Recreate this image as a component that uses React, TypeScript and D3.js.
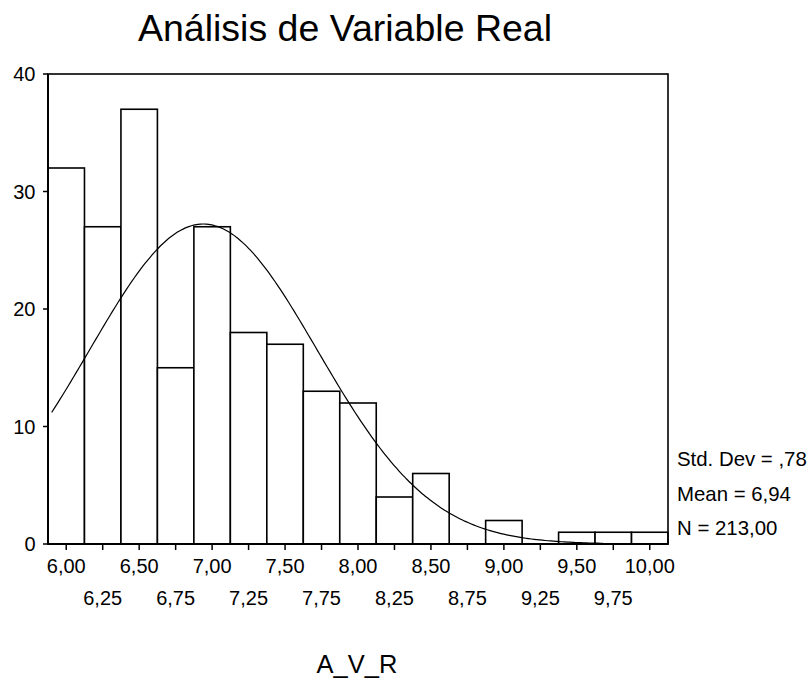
import React from "react";
import * as d3 from "d3";

const title = "Análisis de Variable Real";
const axisTitle = "A_V_R";
const binCenters = [6.0, 6.25, 6.5, 6.75, 7.0, 7.25, 7.5, 7.75, 8.0, 8.25, 8.5, 8.75, 9.0, 9.25, 9.5, 9.75, 10.0];
const counts = [32, 27, 37, 15, 27, 18, 17, 13, 12, 4, 6, 0, 2, 0, 1, 1, 1];
const yTicks = [0, 10, 20, 30, 40];
const binWidth = 0.25;
const stdDev = 0.78;
const mean = 6.94;
const nCount = 213;
const curveRange = [5.9, 9.68];
const statLabels = ["Std. Dev = ,78", "Mean = 6,94", "N = 213,00"];

const fmt = (v: number) => v.toFixed(2).replace(".", ",");

export default function App() {
  const W = 812, H = 681;
  const left = 48, right = 668, top = 74, bottom = 544;
  const x = d3.scaleLinear().domain([5.875, 10.125]).range([left, right]);
  const y = d3.scaleLinear().domain([0, 40]).range([bottom, top]);
  const font = "Liberation Sans, Arial, sans-serif";

  const pts: [number, number][] = [];
  const nSteps = 200;
  for (let i = 0; i <= nSteps; i++) {
    const v = curveRange[0] + (curveRange[1] - curveRange[0]) * (i / nSteps);
    const z = (v - mean) / stdDev;
    const dens = (nCount * binWidth) / (stdDev * Math.sqrt(2 * Math.PI)) * Math.exp(-0.5 * z * z);
    pts.push([x(v), y(dens)]);
  }
  const line = d3.line<[number, number]>().x(d => d[0]).y(d => d[1]).curve(d3.curveBasis);

  return (
    <svg width={W} height={H} style={{ position: "absolute", left: 0, top: 0, background: "#fff" }}>
      <rect x={0} y={0} width={W} height={H} fill="#fff" />
      <text x={345} y={41} textAnchor="middle" fontFamily={font} fontSize={37.5} fill="#000">{title}</text>
      {binCenters.map((c, i) =>
        counts[i] > 0 ? (
          <rect key={i} x={x(c - binWidth / 2)} y={y(counts[i])} width={x(c + binWidth / 2) - x(c - binWidth / 2)}
            height={bottom - y(counts[i])} fill="#fff" stroke="#000" strokeWidth={1.6} />
        ) : null
      )}
      <path d={line(pts) || ""} fill="none" stroke="#000" strokeWidth={1.2} />
      <rect x={left} y={top} width={right - left} height={bottom - top} fill="none" stroke="#000" strokeWidth={1.6} />
      <line x1={left} y1={top} x2={left} y2={bottom} stroke="#000" strokeWidth={2} />
      <line x1={left} y1={bottom} x2={right} y2={bottom} stroke="#000" strokeWidth={2} />
      {yTicks.map(t => (
        <g key={t}>
          <line x1={left - 5} x2={left} y1={y(t)} y2={y(t)} stroke="#000" strokeWidth={1.5} />
          <text x={35.5} y={y(t) + 7} textAnchor="end" fontFamily={font} fontSize={20} fill="#000">{t}</text>
        </g>
      ))}
      {binCenters.map((c, i) => (
        <g key={i}>
          <line x1={x(c)} x2={x(c)} y1={bottom} y2={bottom + 6} stroke="#000" strokeWidth={1.5} />
          <text x={x(c)} y={i % 2 === 0 ? 573 : 605} textAnchor="middle" fontFamily={font} fontSize={20} fill="#000">{fmt(c)}</text>
        </g>
      ))}
      {statLabels.map((s, i) => (
        <text key={i} x={677} y={466 + i * 34.5} fontFamily={font} fontSize={20.4} fill="#000">{s}</text>
      ))}
      <text x={357} y={673} textAnchor="middle" fontFamily={font} fontSize={25.5} fill="#000">{axisTitle}</text>
    </svg>
  );
}
